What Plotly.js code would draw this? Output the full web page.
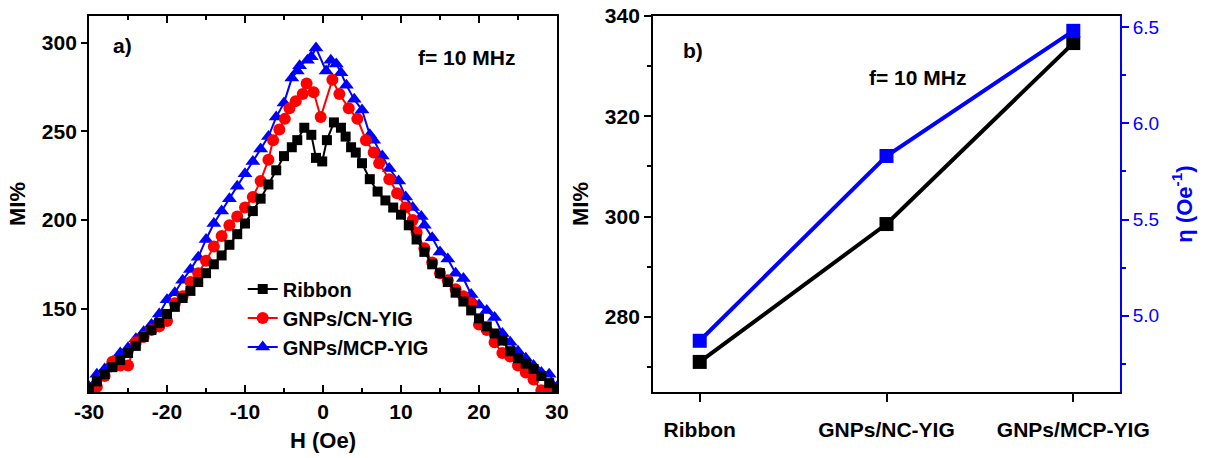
<!DOCTYPE html>
<html>
<head>
<meta charset="utf-8">
<script src="https://cdn.plot.ly/plotly-3.0.1.min.js"></script>
<style>html,body{margin:0;padding:0;background:#fff;}#chart{width:1210px;height:458px;}</style>
</head>
<body>
<div id="chart"></div>
<script>
// ---- Panel a) data ----
const H_ribbon = [-30,-29,-28,-27,-26,-25,-24,-23,-22,-21,-20,-19,-18,-17,-16,-15,-14,-13,-12,-11,-10,-9,-8,-7,-6,-5,-4,
  -3.3,-2.4,-1.5,-0.9,-0.1,0.5,1.4,2.3,2.9,3.6,4.2,
  5,6,7,8,9,10,11,12,13,14,15,16,17,18,19,20,21,22,23,24,25,26,27,28,29,30];
const MI_ribbon = [105,109,113,117,121,125,129,134,138,142,147,151,156,160,165,170,175,180,186,192,198,205,212,220,228,236,241,
  245,252,248,235,233,245,255,252,247,241,238,
  232,223,216,211,207,203,197,189,182,175,170,165,159,154,149,144.5,140,136,132,126,122,119,116,112,108,105];

const H_cn = [-30,-29,-28,-27,-26,-25,-24,-23,-22,-21,-20,-19,-18,-17,-16,-15,-14,-13,-12,-11,-10,-9,-8,
  -7,-6.4,-5.6,-4.9,-4.3,-3.5,-2.6,-2.1,-1.2,-0.3,1.2,2.1,3.3,4.4,5.5,6.5,7.2,8.5,9.5,10.6,11.5,
  12,13,14,15,16,17,18,19,20,21,22,23,24,25,26,27,28,29,30];
const MI_cn = [104,106,112,120,118,118,131,134,138,140,143,153,157,165,170,177,185,191,197,202,207,213,222,
  234,245,251,257,263,267,271,277,272,258,279,271,263,257,245,238,232,223,215,207,200,
  193,184,176,170,166,161,157,153,141,138,131,125,123,118,114,110,104,104,104];

const H_mcp = [-30,-29,-28,-27,-26,-25,-24,-23,-22,-21,-20,-19,-18,-17,-16,-15,-14,-13,-12,-11,-10,-9,-8,-7,-6,-5,-4,
  -3.3,-3,-2,-1.5,-0.9,0.4,1.0,1.7,2.3,3,4,5,6,6.5,7.6,8.5,9.7,10.6,11.5,12.6,
  13,14,15,16,17,18,19,20,21,22,23,24,25,26,27,28,29,30];
const MI_mcp = [106,113,116,120,125,128,133,137,141,147,155,159,166,172,179,189,198,205,212,219,226,233,240,247,258,266,280,
  284,287,290,292,297,284,290,288,283,276,268,262,248,245,236,229,222,213,207,202,
  197,190,182,178,170,167,158,152,149,145,136,131,126,122,118,114,113,106];

const H_tickvals = [-30,-20,-10,0,10,20,30];
const H_ticktext = ['-30','-20','-10','0','10','20','30'];

// ---- Panel b) data ----
const samples = ['Ribbon','GNPs/NC-YIG','GNPs/MCP-YIG'];
const MI_peak = [271.0, 298.5, 334.6];
const eta = [4.87, 5.83, 6.48];

const FONT = 'Arial, "Liberation Sans", Helvetica, sans-serif';
const BLUE = '#0000ff';
const RED = '#ff0000';

const traces = [
  {x:H_mcp, y:MI_mcp, name:'GNPs/MCP-YIG', type:'scatter', mode:'lines+markers', xaxis:'x', yaxis:'y',
   line:{color:BLUE, width:2}, marker:{symbol:'triangle-up', size:13, color:BLUE}},
  {x:H_cn, y:MI_cn, name:'GNPs/CN-YIG', type:'scatter', mode:'lines+markers', xaxis:'x', yaxis:'y',
   line:{color:RED, width:2}, marker:{symbol:'circle', size:12, color:RED}},
  {x:H_ribbon, y:MI_ribbon, name:'Ribbon', type:'scatter', mode:'lines+markers', xaxis:'x', yaxis:'y',
   line:{color:'#000', width:2}, marker:{symbol:'square', size:10, color:'#000'}},
  {x:samples, y:MI_peak, name:'MI%', type:'scatter', mode:'lines+markers', xaxis:'x2', yaxis:'y2', showlegend:false,
   line:{color:'#000', width:4}, marker:{symbol:'square', size:14, color:'#000'}},
  {x:samples, y:eta, name:'eta', type:'scatter', mode:'lines+markers', xaxis:'x2', yaxis:'y3', showlegend:false,
   line:{color:BLUE, width:4}, marker:{symbol:'square', size:14, color:BLUE}}
];

const tickB = {family:FONT, size:21, color:'#000', weight:'bold'};
const titleB = {family:FONT, size:22, color:'#000', weight:'bold'};
const RD = [0.5397,0.9256];

const layout = {
  width:1210, height:458,
  margin:{l:0, r:0, t:16, b:66},
  paper_bgcolor:'#fff', plot_bgcolor:'#fff',
  font:{family:FONT, color:'#000'},
  showlegend:true,
  legend:{x:0.2006, y:0.326, xanchor:'left', yanchor:'top', traceorder:'reversed',
    font:{family:FONT, size:20, color:'#000', weight:'bold'}, bgcolor:'rgba(0,0,0,0)', tracegroupgap:0},
  xaxis:{domain:[0.0736,0.4603], anchor:'y', range:[-30,30], tickmode:'array', tickvals:H_tickvals, ticktext:H_ticktext,
    showgrid:false, zeroline:false, showline:true, linewidth:2, linecolor:'#000', mirror:'ticks',
    ticks:'inside', ticklen:7, tickwidth:2, tickcolor:'#000',
    minor:{dtick:5, tick0:0, ticks:'inside', ticklen:4, tickwidth:2, tickcolor:'#000', showgrid:false},
    tickfont:tickB, title:{text:'H (Oe)', font:titleB, standoff:10}},
  yaxis:{domain:[0,1], anchor:'x', range:[103,315], dtick:50, tick0:0,
    showgrid:false, zeroline:false, showline:true, linewidth:2, linecolor:'#000', mirror:true,
    ticks:'outside', ticklen:6, tickwidth:2, tickcolor:'#000',
    tickfont:tickB, title:{text:'MI%', font:titleB, standoff:10}},
  xaxis2:{domain:RD, anchor:'y2', type:'category', range:[-0.25,2.25],
    showgrid:false, zeroline:false, showline:true, linewidth:2, linecolor:'#000', mirror:true,
    ticks:'outside', ticklen:8, tickwidth:2, tickcolor:'#000', ticklabelstandoff:10,
    tickfont:{family:FONT, size:21, color:'#000', weight:'bold'}},
  yaxis2:{domain:[0,1], anchor:'x2', range:[265,340], dtick:20, tick0:0,
    showgrid:false, zeroline:false, showline:true, linewidth:2, linecolor:'#000', mirror:false,
    ticks:'outside', ticklen:7, tickwidth:2, tickcolor:'#000',
    minor:{dtick:10, ticks:'outside', ticklen:4, tickwidth:2, tickcolor:'#000', showgrid:false},
    tickfont:tickB, title:{text:'MI%', font:titleB, standoff:10}},
  yaxis3:{overlaying:'y2', anchor:'x2', side:'right', range:[4.604,6.557], dtick:0.5, tick0:0, tickformat:'.1f',
    showgrid:false, zeroline:false, showline:true, linewidth:2, linecolor:BLUE,
    ticks:'outside', ticklen:7, tickwidth:2, tickcolor:BLUE,
    minor:{dtick:0.25, ticks:'outside', ticklen:4, tickwidth:2, tickcolor:BLUE, showgrid:false},
    tickfont:{family:FONT, size:19, color:BLUE},
    title:{text:'η (Oe<sup>-1</sup>)', font:{family:FONT, size:22, color:BLUE, weight:'bold'}, standoff:18}},
  annotations:[
    {text:'a)', xref:'paper', yref:'paper', x:(122-89)/468*0.3867+0.0736, y:1-(45-16)/376, showarrow:false,
     font:{family:FONT, size:21, color:'#000', weight:'bold'}, xanchor:'center', yanchor:'middle'},
    {text:'f= 10 MHz', xref:'paper', yref:'paper', x:(467-89)/468*0.3867+0.0736, y:1-(58-16)/376, showarrow:false,
     font:{family:FONT, size:21, color:'#000', weight:'bold'}, xanchor:'center', yanchor:'middle'},
    {text:'b)', xref:'paper', yref:'paper', x:(693-653)/467*0.3859+0.5397, y:1-(50-16)/376, showarrow:false,
     font:{family:FONT, size:21, color:'#000', weight:'bold'}, xanchor:'center', yanchor:'middle'},
    {text:'f= 10 MHz', xref:'paper', yref:'paper', x:(917-653)/467*0.3859+0.5397, y:1-(77-16)/376, showarrow:false,
     font:{family:FONT, size:21, color:'#000', weight:'bold'}, xanchor:'center', yanchor:'middle'}
  ]
};

Plotly.newPlot('chart', traces, layout, {displayModeBar:false, staticPlot:true});
</script>
</body>
</html>
